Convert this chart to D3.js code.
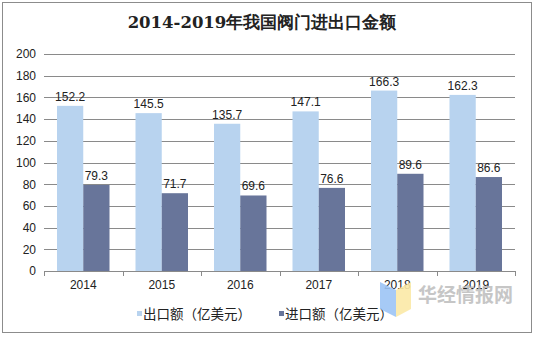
<!DOCTYPE html>
<html><head><meta charset="utf-8">
<script src="https://cdn.jsdelivr.net/npm/d3@7"></script>
<style>body{margin:0;background:#fff}</style>
</head><body>
<svg id="c" width="534" height="337"></svg>
<script>
const title = "2014-2019年我国阀门进出口金额";
const years = ["2014","2015","2016","2017","2018","2019"];
const exportVals = [152.2,145.5,135.7,147.1,166.3,162.3];
const importVals = [79.3,71.7,69.6,76.6,89.6,86.6];
const seriesNames = ["出口额（亿美元）","进口额（亿美元）"];
const yTicks = [0,20,40,60,80,100,120,140,160,180,200];
const colors = ["#B8D3EF","#68759A"];

const svg = d3.select("#c");
svg.append("rect").attr("x",2.5).attr("y",2.5).attr("width",529).attr("height",330)
  .attr("fill","#fff").attr("stroke","#8c8c8c").attr("stroke-width",1);

svg.append("text").attr("x",262).attr("y",28).attr("text-anchor","middle")
  .attr("font-family","'DejaVu Serif','Liberation Serif',serif").attr("font-weight","bold")
  .attr("font-size",16.5).attr("fill","#222").text(title);

const x0 = d3.scaleBand().domain(years).range([44,515]).paddingInner(0).paddingOuter(0);
const x1 = d3.scaleBand().domain([0,1]).range([13, x0.bandwidth()-13]);
const y = d3.scaleLinear().domain([0,200]).range([271,54]);

const grid = svg.append("g");
yTicks.forEach(t=>{
  grid.append("line").attr("x1",44).attr("x2",515).attr("y1",Math.round(y(t))+0.5).attr("y2",Math.round(y(t))+0.5)
    .attr("stroke","#8a8a8a").attr("stroke-width",1);
});

const yAxis = d3.axisLeft(y).tickValues(yTicks).tickSize(0).tickPadding(8);
const ga = svg.append("g").attr("transform","translate(44,0)").call(yAxis);
ga.select(".domain").remove();
ga.selectAll("text").attr("font-family","'Liberation Sans',Arial,sans-serif").attr("font-size",12).attr("fill","#222");

const data = [exportVals, importVals];
years.forEach((yr,i)=>{
  data.forEach((s,k)=>{
    const bx = x0(yr)+x1(k);
    svg.append("rect").attr("x",bx).attr("y",y(s[i])).attr("width",x1.bandwidth()).attr("height",y(0)-y(s[i]))
      .attr("fill",colors[k]);
    svg.append("text").attr("x",bx+x1.bandwidth()/2).attr("y",y(s[i])-5).attr("text-anchor","middle")
      .attr("font-family","'Liberation Sans',Arial,sans-serif").attr("font-size",12).attr("fill","#222").text(s[i]);
  });
});

const xAxis = d3.axisBottom(x0).tickSize(0).tickPadding(9);
const gx = svg.append("g").attr("transform",`translate(0,${y(0)})`).call(xAxis);
gx.select(".domain").attr("stroke","#8a8a8a");
gx.selectAll("text").attr("font-family","'Liberation Sans',Arial,sans-serif").attr("font-size",12).attr("fill","#222");
x0.domain().concat(["end"]).forEach((d,i)=>{
  const xx = 44 + i*x0.bandwidth();
  svg.append("line").attr("x1",Math.round(xx)+0.5).attr("x2",Math.round(xx)+0.5).attr("y1",y(0)).attr("y2",y(0)+5)
    .attr("stroke","#8a8a8a");
});

// legend
const leg = [{x:137},{x:279}];
leg.forEach((l,k)=>{
  svg.append("rect").attr("x",l.x).attr("y",311).attr("width",5).attr("height",5).attr("fill",colors[k]);
  svg.append("text").attr("x",l.x+6).attr("y",319).attr("font-family","'Noto Sans CJK SC',sans-serif")
    .attr("font-size",13.5).attr("fill","#222").text(seriesNames[k]);
});

// watermark
svg.append("path").attr("d","M380,282 L396,290 L396,317 L380,309 Z").attr("fill","#9cc4f5").attr("opacity",0.9);
svg.append("path").attr("d","M396,290 L411,282 L411,309 L396,317 Z").attr("fill","#fbe9a6").attr("opacity",0.9);
svg.append("text").attr("x",418).attr("y",302).attr("font-family","'Noto Sans CJK SC',sans-serif")
  .attr("font-weight","bold").attr("font-size",19).attr("fill","#bdbdbd").attr("opacity",0.85).text("华经情报网");
</script>
</body></html>
